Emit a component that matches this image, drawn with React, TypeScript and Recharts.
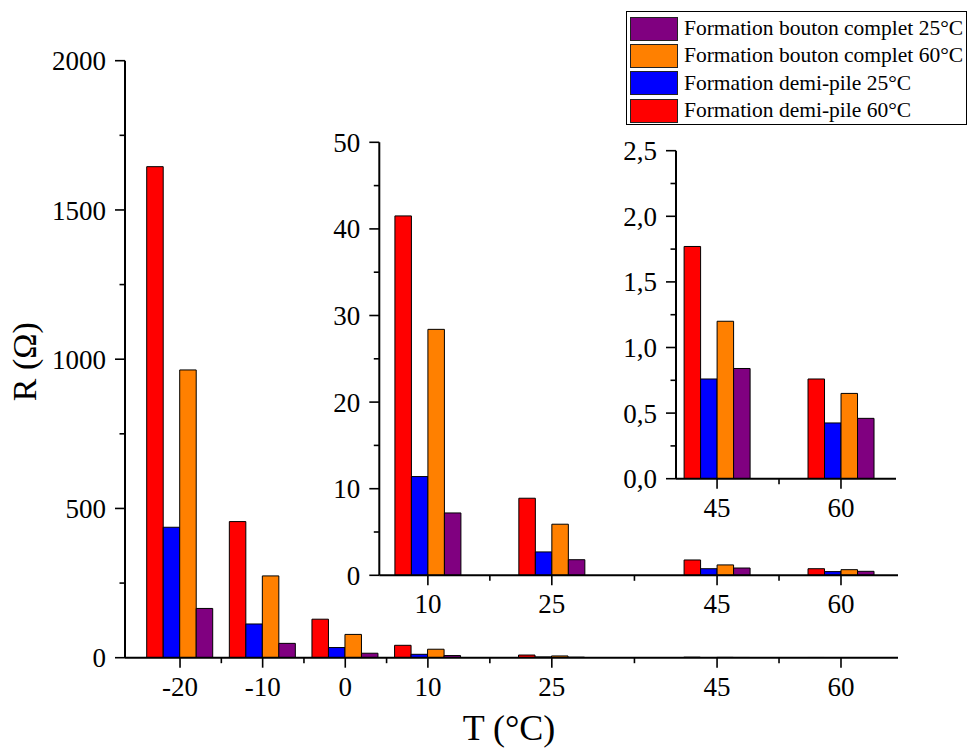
import React from 'react';
import { BarChart, Bar, XAxis, YAxis } from 'recharts';

// ---- Data ----
const T_VALUES = [-20, -10, 0, 10, 25, 45, 60];
const T_LABELS = ['-20', '-10', '0', '10', '25', '45', '60'];
const DEMI_PILE_60 = [1645, 456, 129, 41.5, 8.9, 1.77, 0.76];
const DEMI_PILE_25 = [437, 113, 34, 11.4, 2.7, 0.76, 0.425];
const BOUTON_60 = [964, 274, 78, 28.4, 5.9, 1.2, 0.65];
const BOUTON_25 = [165, 48, 15, 7.2, 1.8, 0.84, 0.46];

const MINOR_T = [-15, -5, 5, 17.5, 35, 52.5];

const MAIN_Y_TICKS = [0, 500, 1000, 1500, 2000];
const MAIN_Y_MINOR = [250, 750, 1250, 1750];
const INSET1_Y_TICKS = [0, 10, 20, 30, 40, 50];
const INSET1_Y_MINOR = [5, 15, 25, 35, 45];
const INSET2_Y_TICKS = [0, 0.5, 1, 1.5, 2, 2.5];
const INSET2_Y_MINOR = [0.25, 0.75, 1.25, 1.75, 2.25];

const SERIES = [
  { key: 'dp60', name: 'Formation demi-pile 60°C', color: '#FF0000' },
  { key: 'dp25', name: 'Formation demi-pile 25°C', color: '#0000FF' },
  { key: 'bc60', name: 'Formation bouton complet 60°C', color: '#FF8000' },
  { key: 'bc25', name: 'Formation bouton complet 25°C', color: '#800080' },
];
const LEGEND_ORDER = ['bc25', 'bc60', 'dp25', 'dp60'];

const rows = T_VALUES.map((t, i) => ({
  T: t,
  label: T_LABELS[i],
  dp60: DEMI_PILE_60[i],
  dp25: DEMI_PILE_25[i],
  bc60: BOUTON_60[i],
  bc25: BOUTON_25[i],
}));

const FONT = "'Liberation Serif', 'Times New Roman', serif";
const W = 967;
const H = 751;
const TINY = 0.01;
const TICK_FONT = 27;
const textStyle = { fontFamily: FONT };

type PanelProps = {
  left: number; right: number; top: number; bottom: number;
  xDomain: [number, number]; yDomain: [number, number];
  minT: number; yTicks: number[]; yMinor: number[];
  yFmt?: (v: number) => string;
};

const labelOf = (v: number) => {
  const i = T_VALUES.indexOf(v);
  return i >= 0 ? T_LABELS[i] : String(v);
};

function makeXTick(majors: number[]) {
  return (props: any) => {
    const { x, y, payload } = props;
    const v = payload.value;
    const major = majors.indexOf(v) >= 0;
    return (
      <g>
        <line x1={x} x2={x} y1={y} y2={y + (major ? 10 : 5.5)} stroke="#000" strokeWidth={1.6} />
        {major && (
          <text x={x} y={y + 19} dy="0.71em" textAnchor="middle" style={textStyle} fontSize={TICK_FONT} fill="#000">
            {labelOf(v)}
          </text>
        )}
      </g>
    );
  };
}

function makeYTick(majors: number[], fmt?: (v: number) => string) {
  return (props: any) => {
    const { x, y, payload } = props;
    const v = payload.value;
    const major = majors.indexOf(v) >= 0;
    return (
      <g>
        <line x1={x - (major ? 10 : 5.5)} x2={x} y1={y} y2={y} stroke="#000" strokeWidth={1.6} />
        {major && (
          <text x={x - 19} y={y} dy="0.355em" textAnchor="end" style={textStyle} fontSize={TICK_FONT} fill="#000">
            {fmt ? fmt(v) : String(v)}
          </text>
        )}
      </g>
    );
  };
}

function Panel(p: PanelProps) {
  const data = rows.filter((r) => r.T >= p.minT);
  const xTicks = T_VALUES.filter((t) => t >= p.minT);
  const xMinor = MINOR_T.filter((t) => t > p.minT && t > p.xDomain[0]);
  const allX = [...xTicks, ...xMinor].sort((a, b) => a - b);
  const allY = [...p.yTicks, ...p.yMinor].sort((a, b) => a - b);
  return (
    <div style={{ position: 'absolute', left: 0, top: 0, width: W, height: H, fontFamily: FONT }}>
      <BarChart
        width={W}
        height={H}
        data={data}
        barGap={0}
        style={{ fontFamily: FONT }}
        margin={{ top: p.top, bottom: H - p.bottom - TINY, left: p.left - TINY, right: W - p.right }}
      >
        <XAxis
          dataKey="T"
          type="number"
          domain={p.xDomain}
          allowDataOverflow
          ticks={allX}
          tickCount={2}
          interval={0}
          height={TINY}
          tickSize={0}
          tickMargin={0}
          tick={makeXTick(xTicks)}
          axisLine={{ stroke: '#000', strokeWidth: 2 }}
          tickLine={false}
        />
        <YAxis
          type="number"
          domain={p.yDomain}
          allowDataOverflow
          ticks={allY}
          interval={0}
          width={TINY}
          tickSize={0}
          tickMargin={0}
          tick={makeYTick(p.yTicks, p.yFmt)}
          axisLine={{ stroke: '#000', strokeWidth: 2 }}
          tickLine={false}
        />
        {SERIES.map((s) => (
          <Bar
            key={s.key}
            dataKey={s.key}
            name={s.name}
            fill={s.color}
            stroke="#000"
            strokeWidth={1}
            barSize={16.5}
            isAnimationActive={false}
          />
        ))}
      </BarChart>
    </div>
  );
}

function Legend() {
  return (
    <div
      style={{
        position: 'absolute', left: 626, top: 11, width: 341, height: 114,
        border: '1px solid #000', boxSizing: 'border-box', background: '#fff',
        paddingTop: 3, fontFamily: FONT, fontSize: 21.5, color: '#000',
      }}
    >
      {LEGEND_ORDER.map((k) => {
        const s = SERIES.find((x) => x.key === k)!;
        return (
          <div key={k} style={{ display: 'flex', alignItems: 'center', height: 27.4, whiteSpace: 'nowrap' }}>
            <div
              style={{
                width: 48, height: 24, marginLeft: 3, marginRight: 6, background: s.color,
                border: '1.5px solid #222', boxSizing: 'border-box', flex: 'none',
              }}
            />
            <span style={{ lineHeight: 1 }}>{s.name}</span>
          </div>
        );
      })}
    </div>
  );
}

export default function App() {
  return (
    <div style={{ position: 'absolute', left: 0, top: 0, width: W, height: H, background: '#fff', overflow: 'hidden', fontFamily: FONT }}>
      <Panel left={125} right={898} top={60.7} bottom={657.7} xDomain={[-26.66, 66.9]} yDomain={[0, 2000]}
        minT={-20} yTicks={MAIN_Y_TICKS} yMinor={MAIN_Y_MINOR} />
      <Panel left={379.3} right={898} top={142.3} bottom={575.3} xDomain={[4.12, 66.9]} yDomain={[0, 50]}
        minT={10} yTicks={INSET1_Y_TICKS} yMinor={INSET1_Y_MINOR} />
      <Panel left={676} right={896} top={150.7} bottom={478.7} xDomain={[40.03, 66.66]} yDomain={[0, 2.5]}
        minT={45} yTicks={INSET2_Y_TICKS} yMinor={INSET2_Y_MINOR}
        yFmt={(v: number) => v.toFixed(1).replace('.', ',')} />
      <svg width={W} height={H} style={{ position: 'absolute', left: 0, top: 0, pointerEvents: 'none' }}>
        <text x={35.6} y={361.7} transform="rotate(-90 35.6 361.7)" textAnchor="middle"
          style={textStyle} fontSize={34} fill="#000">R (Ω)</text>
        <text x={509} y={740} textAnchor="middle" style={textStyle} fontSize={36} fill="#000">T (°C)</text>
      </svg>
      <Legend />
    </div>
  );
}
